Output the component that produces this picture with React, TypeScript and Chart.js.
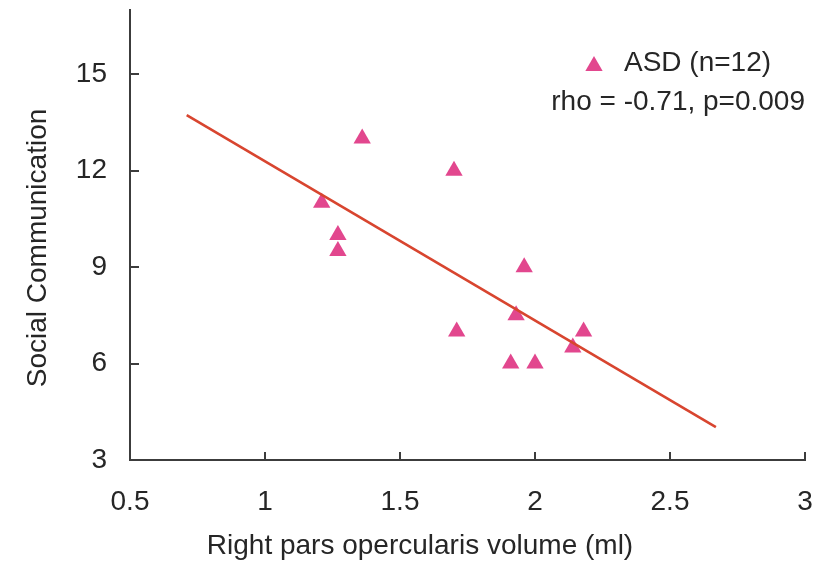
import React, { useEffect, useRef } from "react";
import { Chart, registerables } from "chart.js";

Chart.register(...registerables);

const volumeMl = [1.21, 1.27, 1.27, 1.36, 1.7, 1.71, 1.91, 1.93, 1.96, 2.0, 2.14, 2.18];
const socialComm = [11, 10, 9.5, 13, 12, 7, 6, 7.5, 9, 6, 6.5, 7];
const fitX = [0.71, 2.67];
const fitY = [13.73, 4.02];
const xTicks = [0.5, 1, 1.5, 2, 2.5, 3];
const yTicks = [3, 6, 9, 12, 15];
const legendLabel = "ASD (n=12)";
const statLabel = "rho = -0.71, p=0.009";
const xTitle = "Right pars opercularis volume (ml)";
const yTitle = "Social Communication";

const FONT = "'Liberation Sans', Arial, Helvetica, sans-serif";
const FONT_SIZE = 28;
const AXIS = "#3c3c3c";
const TEXT = "#262626";
const PINK = "#e2478e";
const RED = "#d8452f";

const overlay = {
  id: "overlay",
  afterDraw(chart: any) {
    const { ctx, chartArea, scales } = chart;
    const x = scales.x;
    const y = scales.y;
    ctx.save();
    ctx.strokeStyle = AXIS;
    ctx.lineWidth = 2;
    xTicks.forEach((v) => {
      if (v === x.min) return;
      const px = Math.round(x.getPixelForValue(v));
      ctx.beginPath();
      ctx.moveTo(px, chartArea.bottom);
      ctx.lineTo(px, chartArea.bottom - 8);
      ctx.stroke();
    });
    yTicks.forEach((v) => {
      if (v === y.min) return;
      const py = Math.round(y.getPixelForValue(v));
      ctx.beginPath();
      ctx.moveTo(chartArea.left, py);
      ctx.lineTo(chartArea.left + 9, py);
      ctx.stroke();
    });

    ctx.fillStyle = TEXT;
    ctx.font = `${FONT_SIZE}px ${FONT}`;
    ctx.textAlign = "center";
    ctx.textBaseline = "middle";
    ctx.fillText(xTitle, 420, 546);
    ctx.save();
    ctx.translate(38, 248);
    ctx.rotate(-Math.PI / 2);
    ctx.fillText(yTitle, 0, 0);
    ctx.restore();

    // legend
    const cx = 594;
    const cy = 66;
    const r = 10;
    ctx.fillStyle = PINK;
    ctx.beginPath();
    ctx.moveTo(cx, cy - r);
    ctx.lineTo(cx + r * Math.sin((2 * Math.PI) / 3), cy - r * Math.cos((2 * Math.PI) / 3));
    ctx.lineTo(cx + r * Math.sin((4 * Math.PI) / 3), cy - r * Math.cos((4 * Math.PI) / 3));
    ctx.closePath();
    ctx.fill();

    ctx.fillStyle = TEXT;
    ctx.textAlign = "left";
    ctx.fillText(legendLabel, 624, 63);
    ctx.textAlign = "right";
    ctx.fillText(statLabel, 805, 102);
    ctx.restore();
  },
};

const zeroPad = (s: any) => {
  s.paddingTop = 0;
  s.paddingBottom = 0;
  s.paddingLeft = 0;
  s.paddingRight = 0;
};

export default function App() {
  const canvasRef = useRef<HTMLCanvasElement | null>(null);

  useEffect(() => {
    const canvas = canvasRef.current;
    if (!canvas) return;
    const points = volumeMl.map((v, i) => ({ x: v, y: socialComm[i] }));
    const fit = fitX.map((v, i) => ({ x: v, y: fitY[i] }));
    const chart = new Chart(canvas, {
      type: "scatter",
      data: {
        datasets: [
          {
            label: "fit",
            data: fit,
            showLine: true,
            borderColor: RED,
            borderWidth: 2.6,
            pointRadius: 0,
            order: 0,
          } as any,
          {
            label: legendLabel,
            data: points,
            pointStyle: "triangle",
            pointRadius: 10,
            pointHoverRadius: 10,
            backgroundColor: PINK,
            borderColor: PINK,
            borderWidth: 0,
            order: 1,
          } as any,
        ],
      },
      options: {
        animation: false,
        responsive: true,
        maintainAspectRatio: false,
        layout: { padding: { left: 0, right: 22, top: 10, bottom: 0 } },
        plugins: {
          legend: { display: false },
          tooltip: { enabled: false },
        },
        scales: {
          x: {
            type: "linear",
            min: 0.5,
            max: 3,
            grid: { display: false, drawTicks: false },
            border: { display: true, color: AXIS, width: 2 },
            afterBuildTicks: (s: any) => {
              s.ticks = xTicks.map((v) => ({ value: v }));
            },
            afterFit: (s: any) => {
              s.height = 102;
              zeroPad(s);
            },
            ticks: {
              padding: 25,
              color: TEXT,
              font: { family: FONT, size: FONT_SIZE },
              maxRotation: 0,
              autoSkip: false,
              callback: (v: any) => String(v),
            },
          },
          y: {
            type: "linear",
            min: 3,
            max: 17,
            grid: { display: false, drawTicks: false },
            border: { display: true, color: AXIS, width: 2 },
            afterBuildTicks: (s: any) => {
              s.ticks = yTicks.map((v) => ({ value: v }));
            },
            afterFit: (s: any) => {
              s.width = 130;
              zeroPad(s);
            },
            ticks: {
              padding: 23,
              color: TEXT,
              font: { family: FONT, size: FONT_SIZE },
              autoSkip: false,
              callback: (v: any) => String(v),
            },
          },
        },
      },
      plugins: [overlay],
    });
    return () => chart.destroy();
  }, []);

  return (
    <div style={{ position: "absolute", left: 0, top: 0, width: 827, height: 562, background: "#fff" }}>
      <canvas ref={canvasRef} />
    </div>
  );
}
